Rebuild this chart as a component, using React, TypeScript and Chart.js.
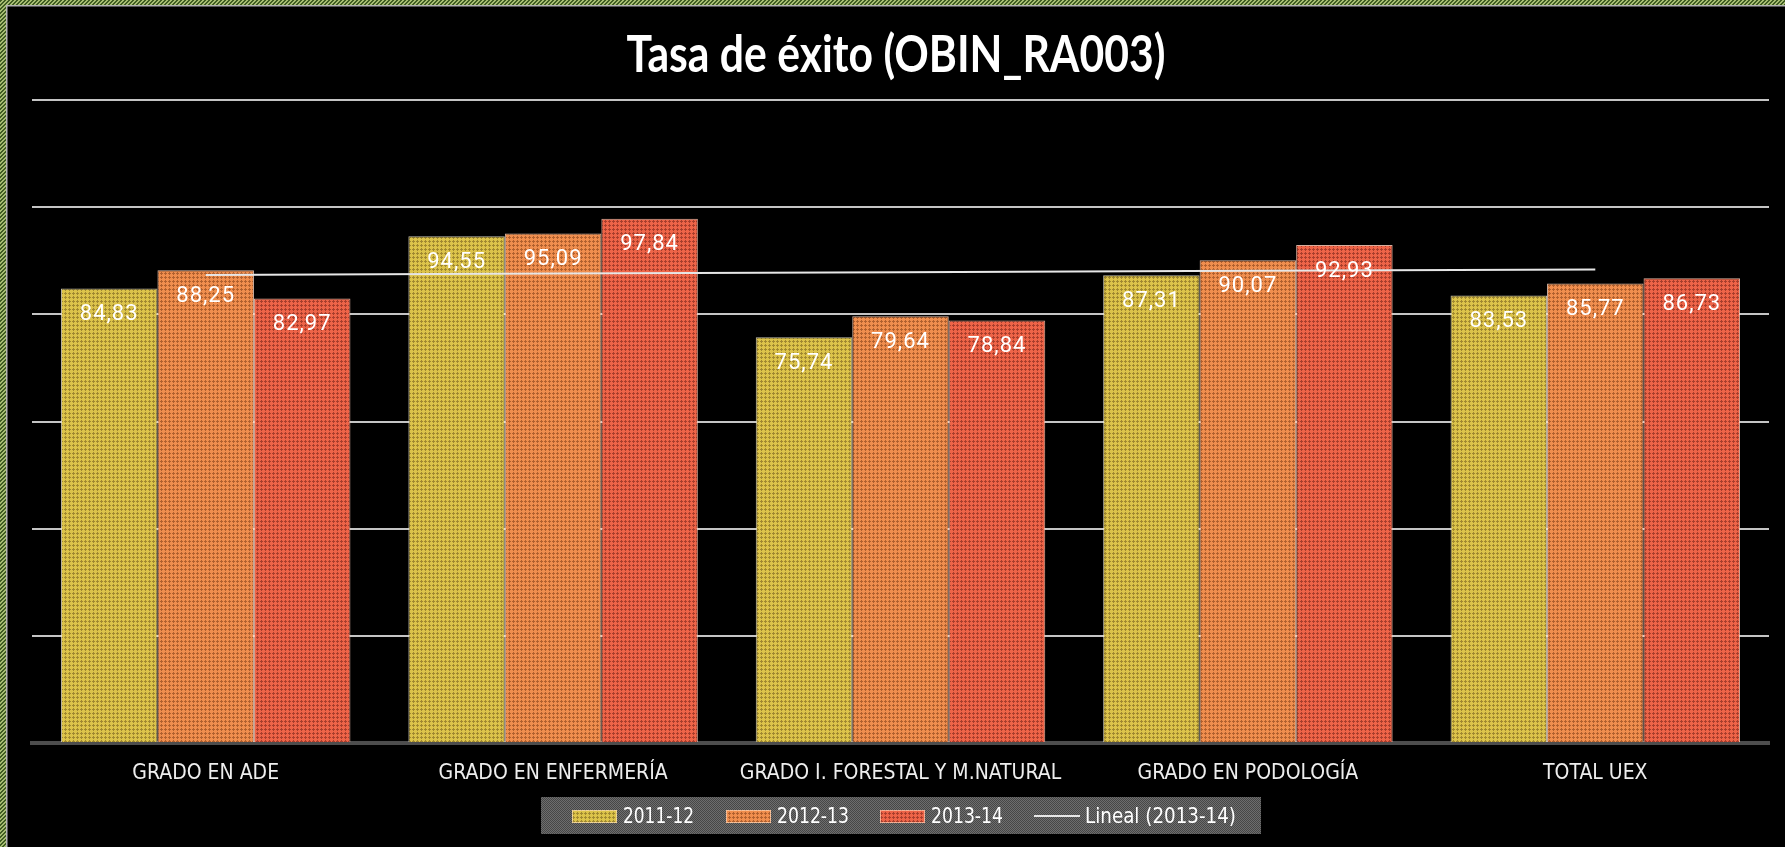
import React, { useEffect, useRef } from "react";
import { Chart, registerables } from "chart.js";

Chart.register(...registerables);

const categories = [
  "GRADO EN ADE",
  "GRADO EN ENFERMERÍA",
  "GRADO I. FORESTAL Y M.NATURAL",
  "GRADO EN PODOLOGÍA",
  "TOTAL UEX",
];
const series2011 = [84.83, 94.55, 75.74, 87.31, 83.53];
const series2012 = [88.25, 95.09, 79.64, 90.07, 85.77];
const series2013 = [82.97, 97.84, 78.84, 92.93, 86.73];
const trend2013 = [87.34, 87.6, 87.86, 88.12, 88.39];
const seriesLabels = ["2011-12", "2012-13", "2013-14", "Lineal (2013-14)"];
const titleText = "Tasa de éxito (OBIN_RA003)";
const yMin = 0;
const yMax = 120;
const yStep = 20;

const W = 1785;
const H = 847;
const NARROW = '"Liberation Sans Narrow", "DejaVu Sans Condensed", "Liberation Sans", sans-serif';

function makeTile(draw: (c: CanvasRenderingContext2D) => void, size: number) {
  const c = document.createElement("canvas");
  c.width = size;
  c.height = size;
  const x = c.getContext("2d")!;
  draw(x);
  return c;
}

function barPattern(ctx: CanvasRenderingContext2D, base: string, dot: string) {
  const tile = makeTile((c) => {
    c.fillStyle = base;
    c.fillRect(0, 0, 4, 4);
    c.fillStyle = dot;
    c.fillRect(1, 0, 1, 1);
    c.fillRect(0, 1, 3, 1);
    c.fillRect(1, 2, 1, 1);
  }, 4);
  return ctx.createPattern(tile, "repeat")!;
}

function greyPattern(ctx: CanvasRenderingContext2D) {
  const tile = makeTile((c) => {
    for (let y = 0; y < 2; y++)
      for (let x = 0; x < 2; x++) {
        c.fillStyle = (x + y) % 2 === 0 ? "#474747" : "#6e6e6e";
        c.fillRect(x, y, 1, 1);
      }
  }, 2);
  return ctx.createPattern(tile, "repeat")!;
}

function greenPattern(ctx: CanvasRenderingContext2D) {
  const tile = makeTile((c) => {
    for (let y = 0; y < 4; y++)
      for (let x = 0; x < 4; x++) {
        c.fillStyle = (x + y) % 4 < 2 ? "#3f5c22" : "#a6bd72";
        c.fillRect(x, y, 1, 1);
      }
  }, 4);
  return ctx.createPattern(tile, "repeat")!;
}

const fmt = (v: number) => v.toFixed(2).replace(".", ",");

const backgroundPlugin = {
  id: "bgFrame",
  beforeDraw(chart: any) {
    const ctx = chart.ctx as CanvasRenderingContext2D;
    ctx.save();
    ctx.fillStyle = "#000000";
    ctx.fillRect(0, 0, W, H);
    ctx.fillStyle = greenPattern(ctx);
    ctx.fillRect(0, 0, 6, H);
    ctx.fillRect(0, 0, W, 5);
    ctx.fillStyle = "#b4b4b4";
    ctx.fillRect(6, 5, 1.5, H - 5);
    ctx.fillRect(6, 5, W - 6, 1.5);
    ctx.restore();
  },
};

const overlayPlugin = {
  id: "overlay",
  afterDatasetsDraw(chart: any) {
    const ctx = chart.ctx as CanvasRenderingContext2D;
    ctx.save();
    ctx.fillStyle = "#ffffff";
    ctx.font = '22px Roboto, "Open Sans", sans-serif';
    (ctx as any).letterSpacing = "1px";
    ctx.textAlign = "center";
    ctx.textBaseline = "middle";
    for (let d = 0; d < 3; d++) {
      const meta = chart.getDatasetMeta(d);
      const data = chart.data.datasets[d].data as number[];
      meta.data.forEach((el: any, i: number) => {
        ctx.fillText(fmt(data[i]), el.x, el.y + 26);
      });
    }
    ctx.restore();
  },
  afterDraw(chart: any) {
    const ctx = chart.ctx as CanvasRenderingContext2D;
    ctx.save();
    // Title
    ctx.fillStyle = "#ffffff";
    ctx.font = 'bold 52px Lato, "Open Sans", sans-serif';
    ctx.textAlign = "center";
    ctx.textBaseline = "alphabetic";
    ctx.fillText(titleText, 896, 72, 539);

    // Legend
    ctx.fillStyle = greyPattern(ctx);
    ctx.fillRect(541, 797, 720, 37);
    const items = [
      { kind: "box", color: chart.data.datasets[0].backgroundColor, x: 572, tx: 623, tw: 71 },
      { kind: "box", color: chart.data.datasets[1].backgroundColor, x: 726, tx: 777, tw: 72 },
      { kind: "box", color: chart.data.datasets[2].backgroundColor, x: 880, tx: 931, tw: 72 },
      { kind: "line", color: "#e6e6e6", x: 1034, tx: 1085, tw: 151 },
    ];
    ctx.font = `22px ${NARROW}`;
    ctx.textAlign = "left";
    ctx.textBaseline = "middle";
    items.forEach((it, i) => {
      if (it.kind === "box") {
        ctx.fillStyle = it.color;
        ctx.fillRect(it.x, 810, 45, 13);
        ctx.strokeStyle = "rgba(255,225,200,0.6)";
        ctx.lineWidth = 1;
        ctx.strokeRect(it.x + 0.5, 810.5, 44, 12);
      } else {
        ctx.strokeStyle = it.color;
        ctx.lineWidth = 2;
        ctx.beginPath();
        ctx.moveTo(it.x, 816);
        ctx.lineTo(it.x + 46, 816);
        ctx.stroke();
      }
      ctx.fillStyle = "#ffffff";
      ctx.fillText(seriesLabels[i], it.tx, 817, it.tw);
    });
    ctx.restore();
  },
};

export default function App() {
  const ref = useRef<HTMLCanvasElement | null>(null);

  useEffect(() => {
    document.body.style.margin = "0";
    document.body.style.background = "#000";
    const canvas = ref.current!;
    const ctx = canvas.getContext("2d")!;
    const yellow = barPattern(ctx, "#dcc34a", "#a08830");
    const orange = barPattern(ctx, "#f08e4e", "#b0602e");
    const red = barPattern(ctx, "#ee6448", "#a83e2c");

    const chart = new Chart(canvas, {
      type: "bar",
      data: {
        labels: categories,
        datasets: [
          {
            type: "bar",
            label: seriesLabels[0],
            data: series2011,
            backgroundColor: yellow as any,
            borderColor: "rgba(240,235,215,0.8)",
            borderWidth: 1,
            order: 1,
          },
          {
            type: "bar",
            label: seriesLabels[1],
            data: series2012,
            backgroundColor: orange as any,
            borderColor: "rgba(255,220,200,0.85)",
            borderWidth: 1,
            order: 1,
          },
          {
            type: "bar",
            label: seriesLabels[2],
            data: series2013,
            backgroundColor: red as any,
            borderColor: "rgba(255,205,185,0.85)",
            borderWidth: 1,
            order: 1,
          },
          {
            type: "line",
            label: seriesLabels[3],
            data: trend2013,
            borderColor: "#e6e6e6",
            borderWidth: 2,
            pointRadius: 0,
            fill: false,
            tension: 0,
            order: 0,
          } as any,
        ],
      },
      options: {
        responsive: false,
        animation: false,
        devicePixelRatio: 1,
        layout: { padding: { left: 32, right: W - 1769, top: 100, bottom: 0 } },
        datasets: {
          bar: { categoryPercentage: 0.8333, barPercentage: 1.0 },
        },
        plugins: {
          legend: { display: false },
          title: { display: false },
          tooltip: { enabled: false },
        },
        scales: {
          x: {
            grid: { display: false, drawTicks: false },
            border: { display: true, color: "#4d4d4d", width: 4 },
            ticks: {
              color: "#ededed",
              font: { family: NARROW, size: 21 },
              padding: 18,
              autoSkip: false,
              maxRotation: 0,
              minRotation: 0,
            },
            afterFit: (scale: any) => {
              scale.height = H - 743;
            },
          },
          y: {
            min: yMin,
            max: yMax,
            ticks: { display: false, stepSize: yStep },
            grid: {
              drawTicks: false,
              lineWidth: 2,
              color: (c: any) => (c.tick && c.tick.value === 0 ? "rgba(0,0,0,0)" : "#c4c4c4"),
            },
            border: { display: false },
            afterFit: (scale: any) => {
              scale.width = 0;
            },
          },
        },
      },
      plugins: [backgroundPlugin, overlayPlugin],
    });
    return () => chart.destroy();
  }, []);

  return (
    <canvas
      ref={ref}
      width={W}
      height={H}
      style={{ display: "block", position: "fixed", left: 0, top: 0, width: W, height: H }}
    />
  );
}
